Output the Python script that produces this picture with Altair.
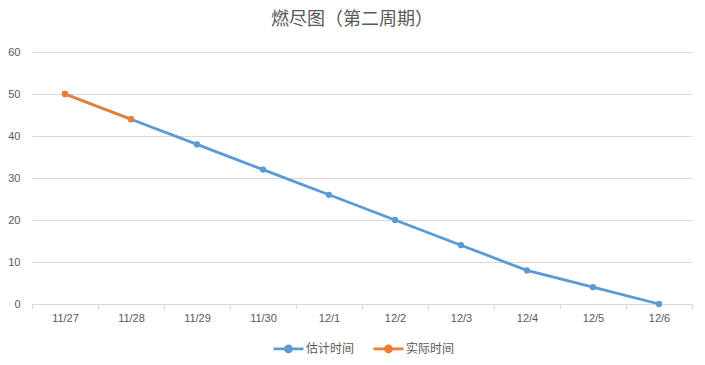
import altair as alt
import pandas as pd

dates = ["11/27", "11/28", "11/29", "11/30", "12/1", "12/2", "12/3", "12/4", "12/5", "12/6"]
estimated = [50, 44, 38, 32, 26, 20, 14, 8, 4, 0]
actual_dates = ["11/27", "11/28"]
actual = [50, 44]
series_names = ["估计时间", "实际时间"]
colors = ["#5B9BD5", "#ED7D31"]

rows = [{"date": d, "value": v, "series": series_names[0]} for d, v in zip(dates, estimated)]
rows += [{"date": d, "value": v, "series": series_names[1]} for d, v in zip(actual_dates, actual)]
df = pd.DataFrame(rows)

legend_path = "M-1,0L1,0M-0.2,0a0.2,0.2 0 1,0 0.4,0a0.2,0.2 0 1,0 -0.4,0"

chart = alt.Chart(df).mark_line(
    strokeWidth=2.8,
    point=alt.OverlayMarkDef(filled=True, size=40),
).encode(
    x=alt.X("date:N", sort=dates, bandPosition=0.5,
            scale=alt.Scale(type="band", domain=dates, paddingInner=0, paddingOuter=0),
            axis=alt.Axis(title=None, labelAngle=0, tickBand="extent", ticks=True, tickSize=5,
                          tickColor="#D9D9D9", domainColor="#D9D9D9", labelColor="#595959",
                          labelFontSize=11, labelFont="Liberation Sans", labelPadding=3,
                          grid=False)),
    y=alt.Y("value:Q", scale=alt.Scale(domain=[0, 60]),
            axis=alt.Axis(title=None, values=[0, 10, 20, 30, 40, 50, 60], domain=False, ticks=False,
                          gridColor="#D9D9D9", labelColor="#595959", labelFontSize=11,
                          labelFont="Liberation Sans", labelPadding=12)),
    color=alt.Color("series:N", sort=series_names,
                    scale=alt.Scale(domain=series_names, range=colors),
                    legend=alt.Legend(title=None, orient="none", direction="horizontal",
                                      legendX=240, legendY=280,
                                      symbolType=legend_path, symbolSize=900, symbolStrokeWidth=2.8,
                                      labelFont="Noto Sans CJK SC", labelFontSize=12,
                                      labelColor="#595959", columnPadding=12,
                                      labelOffset=1)),
    order=alt.Order("series:N"),
).properties(
    width=660,
    height=252,
    title=alt.TitleParams("燃尽图（第二周期）", font="Noto Sans CJK SC", fontSize=18,
                          fontWeight="normal", color="#595959", offset=17, dx=-10),
    autosize=alt.AutoSizeParams(type="none"),
    padding={"left": 32, "top": 52, "right": 13, "bottom": 61},
).configure_view(stroke=None)

chart.save("out.html", embed_options={"renderer": "svg", "actions": False})
